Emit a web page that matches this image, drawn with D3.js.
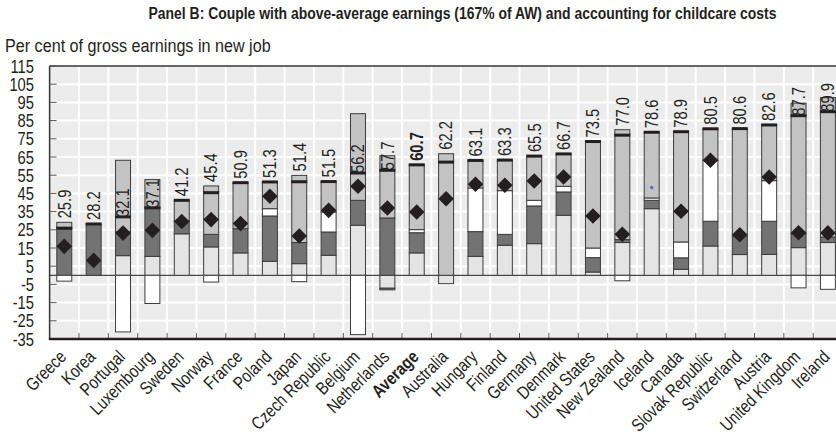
<!DOCTYPE html>
<html>
<head>
<meta charset="utf-8">
<script src="https://cdn.jsdelivr.net/npm/d3@7"></script>
<style>
  html, body { margin: 0; padding: 0; background: #ffffff; }
  svg { display: block; }
  text { font-family: "Liberation Sans", Arial, sans-serif; fill: #231f20; }
</style>
</head>
<body>
<svg id="chart" width="836" height="441"></svg>
<script>
// Countries, in plotted order
const categories = ["Greece", "Korea", "Portugal", "Luxembourg", "Sweden", "Norway", "France",
  "Poland", "Japan", "Czech Republic", "Belgium", "Netherlands", "Average", "Australia",
  "Hungary", "Finland", "Germany", "Denmark", "United States", "New Zealand", "Iceland",
  "Canada", "Slovak Republic", "Switzerland", "Austria", "United Kingdom", "Ireland"];

// Stacked components (per cent of gross earnings in new job)
const lightPart = [0, 0, 10.8, 10.4, 22.8, 15.6, 12.3, 7.7, 6.4, 11.0, 27.5, -7.1, 12.3, -4.6,
  10.4, 16.5, 17.4, 33.0, 1.8, 18.0, 36.6, 3.3, 16.1, 11.4, 11.5, 15.2, 18.0];
const darkPart = [25.6, 28.2, 13.2, 26.7, 7.2, 6.9, 13.3, 24.9, 11.6, 12.8, 13.7, 31.5, 11.1, 0,
  13.6, 6.0, 20.7, 12.8, 7.9, 1.6, 4.6, 6.3, 13.6, 10.0, 18.2, 7.7, 3.0];
const whitePart = [-3.2, 0, -31.1, -15.5, 0, -3.7, 0, 4.0, -3.5, 11.0, -32.6, 0, 1.7, 0,
  24.0, 24.0, 3.1, 3.1, 5.3, -3.0, 1.3, 8.7, 33.5, 0, 22.3, -6.9, -7.7];
const greyPart = [3.5, 0, 39.2, 15.5, 11.2, 26.6, 25.3, 14.7, 36.9, 16.7, 47.6, 34.2, 35.6, 66.8,
  15.1, 16.8, 24.3, 17.8, 58.5, 60.4, 36.1, 60.6, 17.3, 59.2, 30.6, 71.7, 76.6];
const otherPart = [0, 0, 0, 0, 0, 0, 0, 0, 0, 0, 0, -0.9, 0, 0,
  0, 0, 0, 0, 0, 0, 0, 0, 0, 0, 0, 0, 0];

// Net totals shown above each column
const netTotals = [25.9, 28.2, 32.1, 37.1, 41.2, 45.4, 50.9, 51.3, 51.4, 51.5, 56.2, 57.7, 60.7, 62.2,
  63.1, 63.3, 65.5, 66.7, 73.5, 77.0, 78.6, 78.9, 80.5, 80.6, 82.6, 87.7, 89.9];

// Comparison marker (diamond)
const diamondValues = [15.9, 8.2, 23.2, 24.7, 29.6, 30.6, 28.4, 43.4, 21.6, 35.7, 48.9, 37.0, 34.8, 42.1,
  50.0, 49.5, 51.8, 54.0, 32.6, 22.5, null, 35.2, 63.2, 22.3, 54.0, 23.4, 23.3];
// Small point marker
const dotValues = [null, null, null, null, null, null, null, null, null, null, null, null, null, null,
  null, null, null, null, null, null, 48.2, null, null, null, null, null, null];

const yTickValues = [-35, -25, -15, -5, 5, 15, 25, 35, 45, 55, 65, 75, 85, 95, 105, 115];

const titleText = "Panel B: Couple with above-average earnings (167% of AW) and accounting for childcare costs";
const unitText = "Per cent of gross earnings in new job";
const boldCategory = "Average";

const keys = ["light", "dark", "white", "grey", "other"];
const colors = { light: "#e4e4e4", dark: "#737373", white: "#ffffff", grey: "#c3c3c3", other: "#737373" };

const rows = categories.map((c, i) => ({
  cat: c, light: lightPart[i], dark: darkPart[i], white: whitePart[i], grey: greyPart[i], other: otherPart[i],
  net: netTotals[i], diamond: diamondValues[i], dot: dotValues[i]
}));

const svg = d3.select("#chart");
const plotL = 49.6, plotR = 842.6, plotT = 66, plotB = 339;
const NARROW = 0.82;

const x = d3.scaleBand().domain(categories).range([plotL, plotR]).paddingInner(0.49).paddingOuter(0.245);
const y = d3.scaleLinear().domain([-35, 115]).range([plotB, plotT]);
const step = x.step();

// plot background
svg.append("rect").attr("x", plotL).attr("y", plotT).attr("width", plotR - plotL).attr("height", plotB - plotT)
  .attr("fill", "#ececec");

// white grid
const grid = svg.append("g");
grid.selectAll("line.h").data(yTickValues).join("line")
  .attr("x1", plotL).attr("x2", plotR).attr("y1", d => y(d)).attr("y2", d => y(d))
  .attr("stroke", "#ffffff").attr("stroke-width", 2);
const bounds = d3.range(1, categories.length).map(k => plotL + k * step);
grid.selectAll("line.v").data(bounds).join("line")
  .attr("x1", d => d).attr("x2", d => d).attr("y1", plotT).attr("y2", plotB)
  .attr("stroke", "#ffffff").attr("stroke-width", 2);

// zero line
svg.append("line").attr("x1", plotL).attr("x2", plotR).attr("y1", y(0)).attr("y2", y(0))
  .attr("stroke", "#231f20").attr("stroke-width", 1);

// stacked columns
const stacked = d3.stack().keys(keys).offset(d3.stackOffsetDiverging)(rows);
const segs = svg.append("g");
stacked.forEach(layer => {
  segs.append("g").selectAll("rect").data(layer.filter(d => d[1] !== d[0])).join("rect")
    .attr("x", d => x(d.data.cat))
    .attr("width", x.bandwidth())
    .attr("y", d => y(Math.max(d[0], d[1])))
    .attr("height", d => Math.abs(y(d[0]) - y(d[1])))
    .attr("fill", colors[layer.key])
    .attr("stroke", "#3c3c3c").attr("stroke-width", 1);
});

// net total dash
svg.append("g").selectAll("rect").data(rows).join("rect")
  .attr("x", d => x(d.cat) - 0.5).attr("width", x.bandwidth() + 1)
  .attr("y", d => y(d.net) - 1.5).attr("height", 3)
  .attr("fill", "#231f20");

// diamonds
const dh = 7.8;
svg.append("g").selectAll("path").data(rows.filter(d => d.diamond != null)).join("path")
  .attr("d", d => {
    const cx = x(d.cat) + x.bandwidth() / 2, cy = y(d.diamond);
    return `M${cx},${cy - dh}L${cx + dh},${cy}L${cx},${cy + dh}L${cx - dh},${cy}Z`;
  })
  .attr("fill", "#231f20");

// small point marker
svg.append("g").selectAll("circle").data(rows.filter(d => d.dot != null)).join("circle")
  .attr("cx", d => x(d.cat) + x.bandwidth() / 2).attr("cy", d => y(d.dot)).attr("r", 1.6)
  .attr("fill", "#4a64c8");

// value labels
svg.append("g").selectAll("text").data(rows).join("text")
  .attr("transform", d => {
    const posTop = keys.reduce((s, k) => s + Math.max(0, d[k]), 0);
    const ay = (posTop - d.net > 5) ? y(d.net) : y(posTop) - 4;
    const cx = x(d.cat) + x.bandwidth() / 2 + 6.3;
    return `translate(${cx},${ay}) rotate(-90) scale(${NARROW},1)`;
  })
  .attr("font-size", 18)
  .attr("font-weight", d => d.cat === boldCategory ? "bold" : "normal")
  .text(d => d.net.toFixed(1));

// frame and axes
svg.append("line").attr("x1", plotL).attr("x2", plotR).attr("y1", plotT).attr("y2", plotT)
  .attr("stroke", "#333333").attr("stroke-width", 1.5);
svg.append("line").attr("x1", plotL).attr("x2", plotL).attr("y1", plotT).attr("y2", plotB)
  .attr("stroke", "#333333").attr("stroke-width", 1.5);

const yAxis = svg.append("g");
yAxis.selectAll("line").data(yTickValues).join("line")
  .attr("x1", plotL).attr("x2", plotL + 7).attr("y1", d => y(d)).attr("y2", d => y(d))
  .attr("stroke", "#555555").attr("stroke-width", 1);
yAxis.selectAll("text").data(yTickValues).join("text")
  .attr("transform", d => `translate(34,${y(d) + 6.5}) scale(${NARROW},1)`)
  .attr("text-anchor", "end").attr("font-size", 18)
  .text(d => d);

const xAxis = svg.append("g");
xAxis.selectAll("line").data(bounds).join("line")
  .attr("x1", d => d).attr("x2", d => d).attr("y1", plotB).attr("y2", plotB - 6)
  .attr("stroke", "#555555").attr("stroke-width", 1);
svg.append("line").attr("x1", plotL - 0.75).attr("x2", plotR).attr("y1", plotB).attr("y2", plotB)
  .attr("stroke", "#231f20").attr("stroke-width", 2.5);
xAxis.selectAll("text").data(categories).join("text")
  .attr("transform", d => `translate(${x(d) + x.bandwidth() / 2 + 3},358) rotate(-45) scale(${NARROW},1)`)
  .attr("text-anchor", "end").attr("font-size", 18)
  .attr("font-weight", d => d === boldCategory ? "bold" : "normal")
  .text(d => d);

// titles
svg.append("text").attr("transform", `translate(462.5,19) scale(${NARROW},1)`)
  .attr("text-anchor", "middle").attr("font-size", 17).attr("font-weight", "bold")
  .text(titleText);
svg.append("text").attr("transform", `translate(5,52) scale(0.85,1)`)
  .attr("font-size", 19)
  .text(unitText);
</script>
</body>
</html>
